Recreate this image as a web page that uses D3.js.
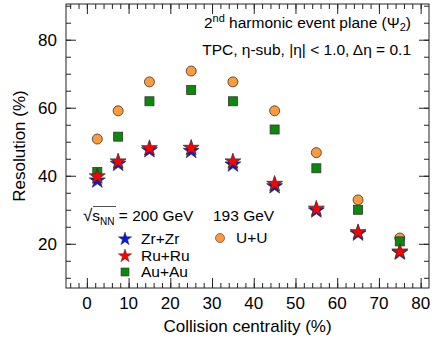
<!DOCTYPE html>
<html lang="en">
<head>
<meta charset="utf-8">
<title>Resolution</title>
<style>
body { margin: 0; background: #fff; }
svg { font-family: "Liberation Sans", Arial, sans-serif; }
.frame { fill: none; stroke: #222; stroke-width: 1; }
</style>
</head>
<body>
<svg id="chart" width="436" height="339"></svg>
<script src="https://cdn.jsdelivr.net/npm/d3@7"></script>
<script>

// centrality bin centres (%)
var centrality = [2.5, 7.5, 15, 25, 35, 45, 55, 65, 75];
var zrzr = [38.6, 43.5, 47.5, 47.3, 43.3, 36.9, 29.8, 23.0, 17.4];
var ruru = [39.8, 44.2, 48.1, 48.2, 44.2, 37.6, 30.3, 23.4, 17.7];
var auau = [41.1, 51.5, 61.9, 65.2, 61.9, 53.6, 42.2, 30.0, 20.7];
var uu   = [50.8, 59.1, 67.6, 70.8, 67.6, 59.1, 46.8, 32.9, 21.7];
var xTicks = [0, 10, 20, 30, 40, 50, 60, 70, 80];
var yTicks = [20, 40, 60, 80];

var svg = d3.select("#chart");
var mLeft = 66, mRight = 429, mTop = 4, mBottom = 288;

var x = d3.scaleLinear().domain([-5, 82]).range([mLeft, mRight]);
var y = d3.scaleLinear().domain([7, 90.5]).range([mBottom, mTop]);

var xMinor = d3.range(-4, 82, 2), yMinor = d3.range(10, 91, 5);

// ticks on all four sides, pointing in
function tickRow(axis, pos, vals, len) {
  svg.append("g").attr("transform", pos)
    .call(axis.tickValues(vals).tickSize(len).tickFormat(""))
    .call(function(s) { s.select(".domain").remove(); })
    .selectAll("line").attr("stroke", "#222");
}
tickRow(d3.axisTop(x), "translate(0," + mBottom + ")", xMinor, 5);
tickRow(d3.axisTop(x), "translate(0," + mBottom + ")", xTicks, 10);
tickRow(d3.axisBottom(x), "translate(0," + mTop + ")", xMinor, 5);
tickRow(d3.axisBottom(x), "translate(0," + mTop + ")", xTicks, 10);
tickRow(d3.axisRight(y), "translate(" + mLeft + ",0)", yMinor, 5);
tickRow(d3.axisRight(y), "translate(" + mLeft + ",0)", yTicks, 10);
tickRow(d3.axisLeft(y), "translate(" + mRight + ",0)", yMinor, 5);
tickRow(d3.axisLeft(y), "translate(" + mRight + ",0)", yTicks, 10);

svg.append("rect").attr("class", "frame")
  .attr("x", mLeft).attr("y", mTop).attr("width", mRight - mLeft).attr("height", mBottom - mTop);

// tick labels
svg.append("g").selectAll("text").data(xTicks).enter().append("text")
  .attr("x", function(d) { return x(d); }).attr("y", 309)
  .attr("text-anchor", "middle").attr("font-size", 17).text(function(d) { return d; });
svg.append("g").selectAll("text").data(yTicks).enter().append("text")
  .attr("x", 57).attr("y", function(d) { return y(d) + 6; })
  .attr("text-anchor", "end").attr("font-size", 17).text(function(d) { return d; });

// axis titles
svg.append("text").attr("x", x(38.5)).attr("y", 332).attr("text-anchor", "middle")
  .attr("font-size", 17).text("Collision centrality (%)");
svg.append("text").attr("transform", "translate(25," + ((mTop + mBottom) / 2) + ") rotate(-90)")
  .attr("text-anchor", "middle").attr("font-size", 17).text("Resolution (%)");

// annotations
var t1 = svg.append("text").attr("x", 411).attr("y", 28).attr("text-anchor", "end").attr("font-size", 15.5);
t1.append("tspan").text("2");
t1.append("tspan").attr("dy", -6).attr("font-size", 11).text("nd");
t1.append("tspan").attr("dy", 6).text(" harmonic event plane (\u03A8");
t1.append("tspan").attr("dy", 3).attr("font-size", 11).text("2");
t1.append("tspan").attr("dy", -3).text(")");
svg.append("text").attr("x", 411).attr("y", 55).attr("text-anchor", "end").attr("font-size", 15.5)
  .text("TPC, \u03B7-sub, |\u03B7| < 1.0, \u0394\u03B7 = 0.1");

// markers
var star = d3.symbol().type(d3.symbolStar).size(78);
var starSmall = d3.symbol().type(d3.symbolStar).size(55);

function stars(vals, color) {
  svg.append("g").selectAll("path").data(centrality).enter().append("path")
    .attr("d", star)
    .attr("transform", function(d, i) { return "translate(" + x(d) + "," + y(vals[i]) + ")"; })
    .attr("fill", color).attr("stroke", "#333").attr("stroke-width", 0.8);
}

svg.append("g").selectAll("circle").data(centrality).enter().append("circle")
  .attr("cx", function(d) { return x(d); }).attr("cy", function(d, i) { return y(uu[i]); })
  .attr("r", 5).attr("fill", "#ff9a3c").attr("stroke", "#333").attr("stroke-width", 0.8);
svg.append("g").selectAll("rect").data(centrality).enter().append("rect")
  .attr("x", function(d) { return x(d) - 4.5; }).attr("y", function(d, i) { return y(auau[i]) - 4.5; })
  .attr("width", 9).attr("height", 9).attr("fill", "#0a8a0a").attr("stroke", "#333").attr("stroke-width", 0.8);
stars(zrzr, "#0a14e6");
stars(ruru, "#f00");

// legend
var sq = svg.append("text").attr("x", 83).attr("y", 221).attr("font-size", 15.5);
sq.append("tspan").attr("font-size", 17).text("\u221A");
sq.append("tspan").text("s");
sq.append("tspan").attr("dy", 4).attr("font-size", 10).text("NN");
sq.append("tspan").attr("dy", -4).text(" = 200 GeV");
svg.append("rect").attr("x", 93).attr("y", 206).attr("width", 23).attr("height", 0.8).attr("fill", "#222");
svg.append("text").attr("x", 213).attr("y", 221).attr("font-size", 15.5).text("193 GeV");

var legendItems = [
  { label: "Zr+Zr", kind: "star", color: "#0a14e6", lx: 125, ly: 239 },
  { label: "Ru+Ru", kind: "star", color: "#f00", lx: 125, ly: 256 },
  { label: "Au+Au", kind: "square", color: "#0a8a0a", lx: 125, ly: 272 },
  { label: "U+U", kind: "circle", color: "#ff9a3c", lx: 220, ly: 238 }
];
legendItems.forEach(function(d) {
  if (d.kind === "star") {
    svg.append("path").attr("d", starSmall).attr("transform", "translate(" + d.lx + "," + d.ly + ")")
      .attr("fill", d.color).attr("stroke", "#333").attr("stroke-width", 0.5);
  } else if (d.kind === "square") {
    svg.append("rect").attr("x", d.lx - 4).attr("y", d.ly - 4).attr("width", 8).attr("height", 8)
      .attr("fill", d.color).attr("stroke", "#333").attr("stroke-width", 0.6);
  } else {
    svg.append("circle").attr("cx", d.lx).attr("cy", d.ly).attr("r", 4.5)
      .attr("fill", d.color).attr("stroke", "#333").attr("stroke-width", 0.6);
  }
  svg.append("text").attr("x", d.lx + 16).attr("y", d.ly + 5).attr("font-size", 15.5).text(d.label);
});

</script>
</body>
</html>
